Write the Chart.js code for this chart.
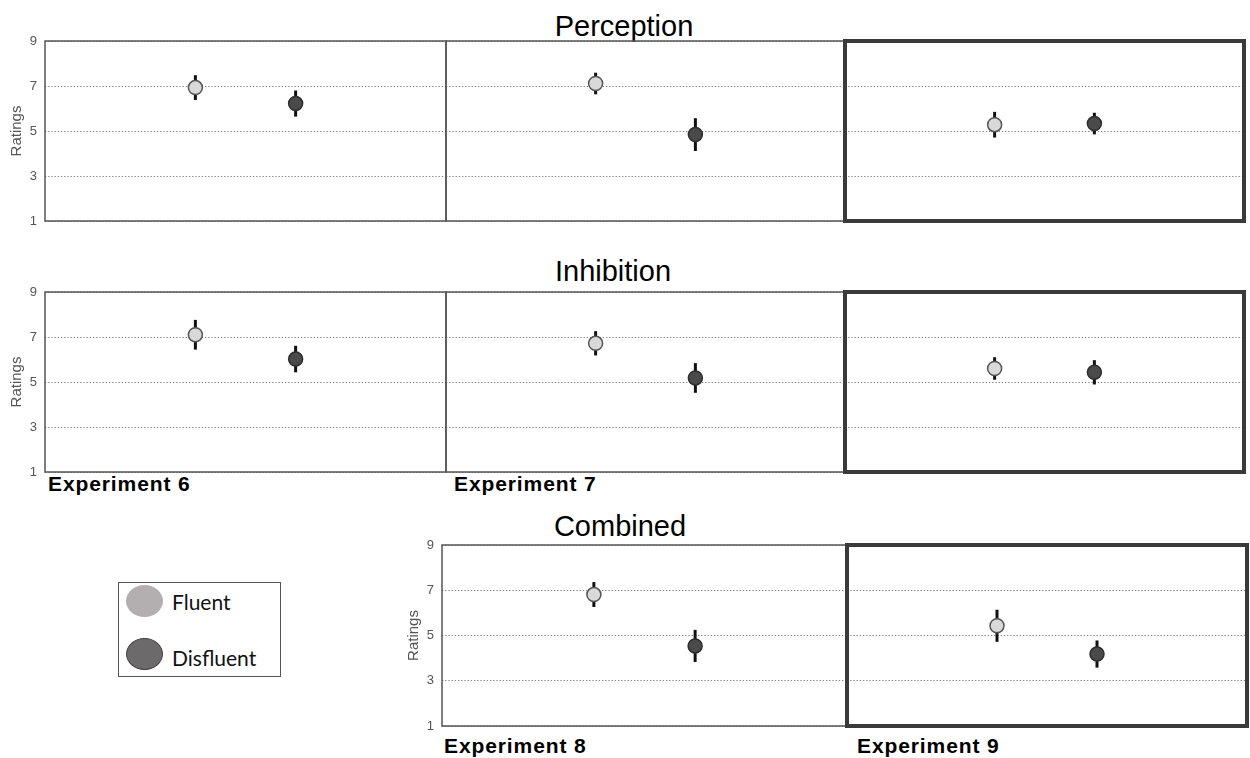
<!DOCTYPE html>
<html>
<head>
<meta charset="utf-8">
<script src="https://cdn.jsdelivr.net/npm/chart.js@4.4.0/dist/chart.umd.min.js"></script>
<style>
  body { margin: 0; background: #fff; width: 1250px; height: 758px; position: relative; overflow: hidden; font-family: "Liberation Sans", Arial, sans-serif; }
  .panel { position: absolute; }
  .panel canvas { display: block; }
  .row-title { position: absolute; font-size: 29px; line-height: 29px; color: #000; transform: translateX(-50%); white-space: nowrap; }
  .exp-label { position: absolute; font-size: 21px; line-height: 21px; font-weight: bold; letter-spacing: 0.9px; color: #000; white-space: nowrap; }
  .legend-box { position: absolute; left: 118px; top: 582px; width: 163px; height: 95px; border: 1px solid #555; box-sizing: border-box; }
  .legend-dot { position: absolute; width: 37px; height: 32px; border-radius: 50%; box-sizing: border-box; }
  .legend-text { position: absolute; font-family: Lato, "Open Sans", sans-serif; font-size: 21px; line-height: 21px; color: #111; }
</style>
</head>
<body>

<div class="row-title" style="left:624px; top:12px;">Perception</div>
<div class="row-title" style="left:613px; top:257px;">Inhibition</div>
<div class="row-title" style="left:620px; top:512px;">Combined</div>

<div class="exp-label" style="left:48px; top:473px;">Experiment 6</div>
<div class="exp-label" style="left:454px; top:473px;">Experiment 7</div>
<div class="exp-label" style="left:444px; top:735px;">Experiment 8</div>
<div class="exp-label" style="left:857px; top:735px;">Experiment 9</div>

<div class="legend-box">
  <div class="legend-dot" style="left:7px; top:2px; background:#b3aeaf;"></div>
  <div class="legend-dot" style="left:7px; top:55px; background:#6d6a6b; border:1.5px solid #444;"></div>
  <div class="legend-text" style="left:53px; top:8px;">Fluent</div>
  <div class="legend-text" style="left:53px; top:64px;">Disfluent</div>
</div>

<script>
const conditions = ["Fluent", "Disfluent"];
const yTicks = [1, 3, 5, 7, 9];

// Perception: Experiment 6, 7, 9
const perceptionFluent = [6.93, 7.11, 5.28];
const perceptionFluentErr = [0.55, 0.48, 0.57];
const perceptionDisfluent = [6.22, 4.84, 5.33];
const perceptionDisfluentErr = [0.58, 0.73, 0.48];

// Inhibition: Experiment 6, 7, 9
const inhibitionFluent = [7.1, 6.72, 5.6];
const inhibitionFluentErr = [0.66, 0.54, 0.5];
const inhibitionDisfluent = [6.02, 5.18, 5.43];
const inhibitionDisfluentErr = [0.59, 0.66, 0.54];

// Combined: Experiment 8, 9
const combinedFluent = [6.81, 5.43];
const combinedFluentErr = [0.55, 0.71];
const combinedDisfluent = [4.54, 4.18];
const combinedDisfluentErr = [0.71, 0.6];

const errorBars = {
    id: "errorBars",
    beforeDatasetsDraw(chart) {
        const ctx = chart.ctx;
        const y = chart.scales.y;
        ctx.save();
        ctx.strokeStyle = "#111";
        ctx.lineWidth = 3;
        chart.data.datasets.forEach((ds, d) => {
            chart.getDatasetMeta(d).data.forEach((pt, i) => {
                const v = ds.data[i].y, e = ds.errors[i];
                ctx.beginPath();
                ctx.moveTo(pt.x, y.getPixelForValue(v + e));
                ctx.lineTo(pt.x, y.getPixelForValue(v - e));
                ctx.stroke();
            });
        });
        ctx.restore();
    },
};

const panelFrame = {
    id: "panelFrame",
    afterDatasetsDraw(chart, args, opts) {
        const a = chart.chartArea;
        const ctx = chart.ctx;
        ctx.save();
        ctx.strokeStyle = opts.color;
        ctx.lineWidth = opts.width;
        ctx.strokeRect(a.left, a.top, a.right - a.left, a.bottom - a.top);
        ctx.restore();
    },
};

function makePanel(left, top, w, h, showAxis, thick, f, fe, d, de) {
    const padL = showAxis ? 45 : 3;
    const div = document.createElement("div");
    div.className = "panel";
    div.style.left = (left - padL) + "px";
    div.style.top = (top - 12) + "px";
    const canvas = document.createElement("canvas");
    canvas.width = padL + w + 3;
    canvas.height = h + 24;
    div.appendChild(canvas);
    document.body.appendChild(div);

    new Chart(canvas, {
        type: "scatter",
        data: {
            datasets: [
                {
                    label: conditions[0],
                    data: [{ x: 1, y: f }],
                    errors: [fe],
                    backgroundColor: "#d9d9d9",
                    borderColor: "#555",
                    borderWidth: 1.5,
                    pointRadius: 7,
                },
                {
                    label: conditions[1],
                    data: [{ x: 2, y: d }],
                    errors: [de],
                    backgroundColor: "#4a4a4a",
                    borderColor: "#2e2e2e",
                    borderWidth: 1.5,
                    pointRadius: 7,
                },
            ],
        },
        options: {
            responsive: false,
            animation: false,
            layout: { autoPadding: false, padding: { left: showAxis ? 0 : 3, right: 3, top: 12, bottom: 12 } },
            scales: {
                x: { type: "linear", min: -0.5, max: 3.5, display: false },
                y: {
                    min: 1,
                    max: 9,
                    afterBuildTicks: (s) => { s.ticks = yTicks.map((v) => ({ value: v })); },
                    afterFit: (s) => {
                        s.width = showAxis ? 45 : 0;
                        s.paddingTop = 0;
                        s.paddingBottom = 0;
                    },
                    ticks: {
                        display: showAxis,
                        padding: 8,
                        color: "#555",
                        font: { family: "Liberation Sans", size: 13 },
                    },
                    grid: { color: "#7f7f7f", lineWidth: 1, drawTicks: false },
                    border: { display: false, dash: [1.3, 1.9] },
                    title: {
                        display: showAxis,
                        text: "Ratings",
                        color: "#555",
                        font: { family: "Liberation Sans", size: 15 },
                        padding: { top: 8, bottom: 0 },
                    },
                },
            },
            plugins: {
                legend: { display: false },
                tooltip: { enabled: false },
                panelFrame: thick ? { color: "#3a3a3a", width: 4 } : { color: "#555", width: 1.5 },
            },
        },
        plugins: [errorBars, panelFrame],
    });
}

document.addEventListener("DOMContentLoaded", () => {
    const rowX = [[45, 401], [446, 399], [845, 399]];
    rowX.forEach(([x, w], i) => {
        makePanel(x, 41, w, 180, i === 0, i === 2,
            perceptionFluent[i], perceptionFluentErr[i], perceptionDisfluent[i], perceptionDisfluentErr[i]);
    });
    rowX.forEach(([x, w], i) => {
        makePanel(x, 292.3, w, 180, i === 0, i === 2,
            inhibitionFluent[i], inhibitionFluentErr[i], inhibitionDisfluent[i], inhibitionDisfluentErr[i]);
    });
    [[442, 405], [847, 400]].forEach(([x, w], i) => {
        makePanel(x, 544.5, w, 181, i === 0, i === 1,
            combinedFluent[i], combinedFluentErr[i], combinedDisfluent[i], combinedDisfluentErr[i]);
    });
});
</script>
</body>
</html>
